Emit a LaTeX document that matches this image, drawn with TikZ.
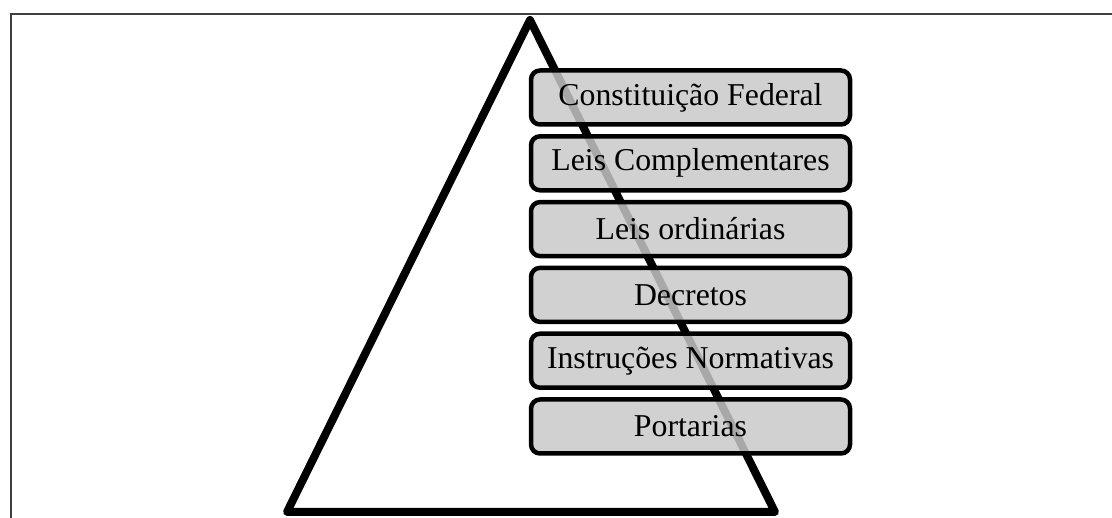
\documentclass[tikz,border=0pt]{standalone}
\usepackage{fontspec}
\setmainfont{Liberation Serif}
\begin{document}
\begin{tikzpicture}[x=1pt,y=-1pt,
  frameline/.style={draw=black!75,line width=2pt},
  pyramid/.style={draw=black,line width=8pt,line join=round},
  level/.style={draw=black,line width=4.5pt,rounded corners=9pt,
    fill=black!21,fill opacity=0.84,text opacity=1,
    minimum width=319pt,minimum height=54pt,inner sep=0pt,
    font=\fontsize{31.8}{38}\selectfont}]
\useasboundingbox (0,0) rectangle (1112,518);
\fill[white] (0,0) rectangle (1112,518);
\coordinate (fb) at (10.5,518);
\coordinate (fc) at (10.5,14);
\coordinate (fr) at (1112,14);
\draw[frameline] (fb) -- (fc) -- (fr);
\coordinate (apex) at (530,20);
\coordinate (bl) at (287,512);
\coordinate (br) at (775,512);
\draw[pyramid] (apex) -- (bl) -- (br) -- cycle;
\node[level] (cf) at (690.5,97.5) {Constituição Federal};
\node[level] (lc) at (690.5,163.3) {Leis Complementares};
\node[level] (lo) at (690.5,229.1) {Leis ordinárias};
\node[level] (de) at (690.5,294.9) {Decretos};
\node[level] (in) at (690.5,360.7) {Instruções Normativas};
\node[level] (po) at (690.5,426.5) {Portarias};
\end{tikzpicture}
\end{document}
